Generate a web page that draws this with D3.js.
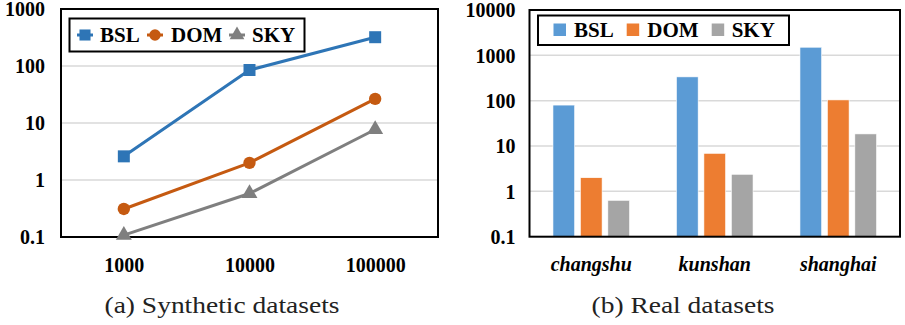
<!DOCTYPE html>
<html>
<head>
<meta charset="utf-8">
<script src="https://cdn.jsdelivr.net/npm/d3@7"></script>
<style>
  html, body { margin: 0; padding: 0; background: #fff; }
  svg { display: block; }
</style>
</head>
<body>
<svg id="chart" width="905" height="325"></svg>
<script>
// ---- Synthetic datasets (line chart, log scale) ----
const synthSizes = ["1000", "10000", "100000"];
const synthBSL = [2.6, 85, 320];
const synthDOM = [0.31, 2.0, 26.5];
const synthSKY = [0.108, 0.58, 7.7];
const synthTicks = [0.1, 1, 10, 100, 1000];

// ---- Real datasets (grouped bars, log scale) ----
const cities = ["changshu", "kunshan", "shanghai"];
const realBSL = [80, 335, 1510];
const realDOM = [2.0, 6.9, 104];
const realSKY = [0.635, 2.38, 18.5];
const realTicks = [0.1, 1, 10, 100, 1000, 10000];

const seriesNames = ["BSL", "DOM", "SKY"];
const lineColors = ["#2E75B6", "#C55A11", "#7F7F7F"];
const barColors = ["#5B9BD5", "#ED7D31", "#A5A5A5"];

const SERIF = "Liberation Serif, Tinos, Times New Roman, serif";

const svg = d3.select("#chart");
const fmt = d => d < 1 ? String(d) : d3.format("d")(d);

function styleTicks(sel, italic) {
  sel.attr("font-family", SERIF).attr("font-size", 20).attr("font-weight", "bold")
    .attr("fill", "#000").attr("font-style", italic ? "italic" : "normal");
}

function caption(g, x, text, width) {
  g.append("text").attr("x", x).attr("y", 313)
    .attr("font-family", SERIF).attr("font-size", 24).attr("fill", "#222")
    .attr("text-anchor", "middle").attr("textLength", width).attr("lengthAdjust", "spacingAndGlyphs")
    .text(text);
}

// ================= Left panel =================
const L = { left: 61, right: 438, top: 9, bottom: 237 };
const gL = svg.append("g");

const xL = d3.scalePoint().domain(synthSizes).range([L.left, L.right]).padding(0.5);
const yL = d3.scaleLog().domain([0.1, 1000]).range([L.bottom, L.top]);

// horizontal gridlines
gL.append("g").selectAll("line").data(synthTicks.slice(1, -1)).join("line")
  .attr("x1", L.left).attr("x2", L.right)
  .attr("y1", d => yL(d)).attr("y2", d => yL(d))
  .attr("stroke", "#D9D9D9").attr("stroke-width", 1.5);

// y axis labels
const yAxisL = d3.axisLeft(yL).tickValues(synthTicks).tickFormat(fmt).tickSize(0).tickPadding(16);
gL.append("g").attr("transform", `translate(${L.left},0)`).call(yAxisL)
  .call(g => g.select(".domain").remove())
  .selectAll("text").call(styleTicks, false).attr("dy", "0.34em");

// x axis labels
const xAxisL = d3.axisBottom(xL).tickSize(0).tickPadding(21);
gL.append("g").attr("transform", `translate(0,${L.bottom})`).call(xAxisL)
  .call(g => g.select(".domain").remove())
  .selectAll("text").call(styleTicks, false);

// plot frame
gL.append("rect").attr("x", L.left).attr("y", L.top)
  .attr("width", L.right - L.left).attr("height", L.bottom - L.top)
  .attr("fill", "none").attr("stroke", "#000").attr("stroke-width", 2);

const synthSeries = [synthBSL, synthDOM, synthSKY];
const line = d3.line().x((d, i) => xL(synthSizes[i])).y(d => yL(d));
const markerSymbols = [d3.symbolSquare, d3.symbolCircle, d3.symbolTriangle];
const markerSizes = [144, 120, 110];

synthSeries.forEach((vals, s) => {
  gL.append("path").datum(vals).attr("d", line)
    .attr("fill", "none").attr("stroke", lineColors[s]).attr("stroke-width", 3)
    .attr("stroke-linejoin", "round");
  gL.append("g").selectAll("path").data(vals).join("path")
    .attr("transform", (d, i) => `translate(${xL(synthSizes[i])},${yL(d)})`)
    .attr("d", d3.symbol(markerSymbols[s], markerSizes[s]))
    .attr("fill", lineColors[s]);
});

// legend
const legL = gL.append("g");
legL.append("rect").attr("x", 69.5).attr("y", 18.5).attr("width", 235).attr("height", 33)
  .attr("fill", "#fff").attr("stroke", "#000").attr("stroke-width", 2);
const legLItems = [{ m: 85, t: 100 }, { m: 155, t: 171 }, { m: 237, t: 252 }];
legLItems.forEach((it, s) => {
  legL.append("line").attr("x1", it.m - 8).attr("x2", it.m + 8).attr("y1", 35).attr("y2", 35)
    .attr("stroke", lineColors[s]).attr("stroke-width", 3);
  legL.append("path").attr("transform", `translate(${it.m},35)`)
    .attr("d", d3.symbol(markerSymbols[s], markerSizes[s] * 0.85)).attr("fill", lineColors[s]);
  legL.append("text").attr("x", it.t).attr("y", 42)
    .attr("font-family", SERIF).attr("font-size", 21).attr("font-weight", "bold").attr("fill", "#000")
    .text(seriesNames[s]);
});

caption(gL, 222, "(a) Synthetic datasets", 235);

// ================= Right panel =================
const R = { left: 529.5, right: 900, top: 10, bottom: 236.7 };
const gR = svg.append("g");

const xR = d3.scaleBand().domain(cities).range([R.left, R.right]);
const yR = d3.scaleLog().domain([0.1, 10000]).range([R.bottom, R.top]);
const groupW = xR.bandwidth() * 0.62;
const xInner = d3.scaleBand().domain(seriesNames).range([-groupW / 2, groupW / 2]).paddingInner(0.21);

gR.append("g").selectAll("line").data(realTicks.slice(1, -1)).join("line")
  .attr("x1", R.left).attr("x2", R.right)
  .attr("y1", d => yR(d)).attr("y2", d => yR(d))
  .attr("stroke", "#D9D9D9").attr("stroke-width", 1.5);

const yAxisR = d3.axisLeft(yR).tickValues(realTicks).tickFormat(fmt).tickSize(0).tickPadding(14);
gR.append("g").attr("transform", `translate(${R.left},0)`).call(yAxisR)
  .call(g => g.select(".domain").remove())
  .selectAll("text").call(styleTicks, false).attr("dy", "0.34em");

const xAxisR = d3.axisBottom(xR).tickSize(0).tickPadding(20);
gR.append("g").attr("transform", `translate(0,${R.bottom})`).call(xAxisR)
  .call(g => g.select(".domain").remove())
  .selectAll("text").call(styleTicks, true);

const realSeries = [realBSL, realDOM, realSKY];
realSeries.forEach((vals, s) => {
  gR.append("g").selectAll("rect").data(vals).join("rect")
    .attr("x", (d, i) => xR(cities[i]) + xR.bandwidth() / 2 + xInner(seriesNames[s]))
    .attr("y", d => yR(d))
    .attr("width", xInner.bandwidth())
    .attr("height", d => R.bottom - yR(d))
    .attr("fill", barColors[s]).attr("stroke", "#fff").attr("stroke-width", 0.6);
});

gR.append("rect").attr("x", R.left).attr("y", R.top)
  .attr("width", R.right - R.left).attr("height", R.bottom - R.top)
  .attr("fill", "none").attr("stroke", "#000").attr("stroke-width", 2);

const legR = gR.append("g");
legR.append("rect").attr("x", 538).attr("y", 15.5).attr("width", 251).attr("height", 29.5)
  .attr("fill", "#fff").attr("stroke", "#000").attr("stroke-width", 2);
const legRItems = [{ m: 553.5, t: 574 }, { m: 626.7, t: 647.3 }, { m: 711.7, t: 731.7 }];
legRItems.forEach((it, s) => {
  legR.append("rect").attr("x", it.m).attr("y", 23.5).attr("width", 12.5).attr("height", 12.5)
    .attr("fill", barColors[s]);
  legR.append("text").attr("x", it.t).attr("y", 37)
    .attr("font-family", SERIF).attr("font-size", 21).attr("font-weight", "bold").attr("fill", "#000")
    .text(seriesNames[s]);
});

caption(gR, 683, "(b) Real datasets", 183);
</script>
</body>
</html>
